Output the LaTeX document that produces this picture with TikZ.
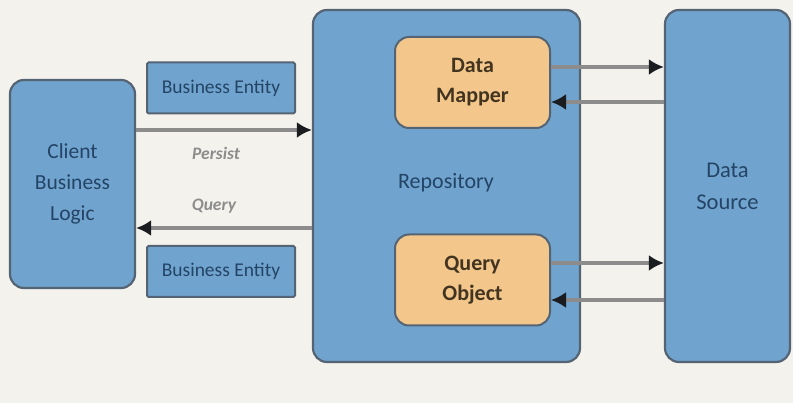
\documentclass[tikz,border=0pt]{standalone}
\usepackage{fontspec}
\setmainfont{Carlito}
\usetikzlibrary{arrows.meta}
\usetikzlibrary{calc}

\definecolor{boxblue}{RGB}{112,164,206}
\definecolor{boxedge}{RGB}{84,100,116}
\definecolor{boxorange}{RGB}{243,199,139}
\definecolor{paper}{RGB}{244,242,236}
\definecolor{navytext}{RGB}{36,68,102}
\definecolor{browntext}{RGB}{66,52,32}
\definecolor{flowgrey}{RGB}{140,140,140}
\definecolor{tipdark}{RGB}{26,28,32}

\tikzset{
  bluebox/.style={draw=boxedge,line width=2.2pt,fill=boxblue,rounded corners=14pt,
    text=navytext,align=center,font=\fontsize{21.5}{31}\selectfont},
  orangebox/.style={draw=boxedge,line width=2pt,fill=boxorange,rounded corners=14pt,
    text=browntext,align=center,font=\fontsize{22}{30}\selectfont\bfseries,
    minimum width=155pt,minimum height=91pt},
  entitybox/.style={draw=boxedge,line width=2pt,fill=boxblue,rounded corners=1.5pt,
    text=navytext,font=\fontsize{19.5}{22}\selectfont,minimum width=148pt,minimum height=51pt},
  flow/.style={draw=flowgrey,line width=3.5pt,-{Latex[length=15pt,width=16pt,color=tipdark]}},
  flowlabel/.style={text=flowgrey,font=\fontsize{17.5}{20}\selectfont\bfseries\itshape}
}

\begin{document}
\begin{tikzpicture}[x=1pt,y=-1pt]
    \fill[paper] (0,0) rectangle (793,403);
    \useasboundingbox (0,0) rectangle (793,403);

    % main blocks
    \node[bluebox,minimum width=125pt,minimum height=208pt] (client) at (72.5,184) {Client\\Business\\Logic};
    \node[bluebox,minimum width=267pt,minimum height=352pt] (repo) at (446.5,186) {};
    \node[bluebox,minimum width=125pt,minimum height=352pt,font=\fontsize{22.5}{32}\selectfont] (source) at (727.5,186) {Data\\Source};

    \node[text=navytext,font=\fontsize{22}{24}\selectfont] (repolabel) at (446,183) {Repository};

    % inner objects
    \node[orangebox] (mapper) at (472.5,82.5) {Data\\Mapper};
    \node[orangebox] (query) at (472.5,280) {Query\\Object};

    % entities
    \node[entitybox] (enttop) at (221,88) {Business Entity};
    \node[entitybox] (entbot) at (221,271.5) {Business Entity};

    % client <-> repository
    \coordinate (persistout) at ([yshift=54pt]client.east);
    \coordinate (queryin) at ([yshift=-44pt]client.east);
    \draw[flow] (persistout) -- (persistout -| repo.west);
    \draw[flow] (queryin -| repo.west) -- (queryin);
    \node[flowlabel] (persist) at (216,153) {Persist};
    \node[flowlabel] (querytxt) at (214,206) {Query};

    % repository <-> data source
    \coordinate (mapout) at ([yshift=15.5pt]mapper.east);
    \coordinate (mapin) at ([yshift=-19.5pt]mapper.east);
    \coordinate (qout) at ([yshift=17pt]query.east);
    \coordinate (qin) at ([yshift=-20pt]query.east);
    \draw[flow] (mapout) -- (mapout -| source.west);
    \draw[flow] (mapin -| source.west) -- (mapin);
    \draw[flow] (qout) -- (qout -| source.west);
    \draw[flow] (qin -| source.west) -- (qin);

\end{tikzpicture}
\end{document}
